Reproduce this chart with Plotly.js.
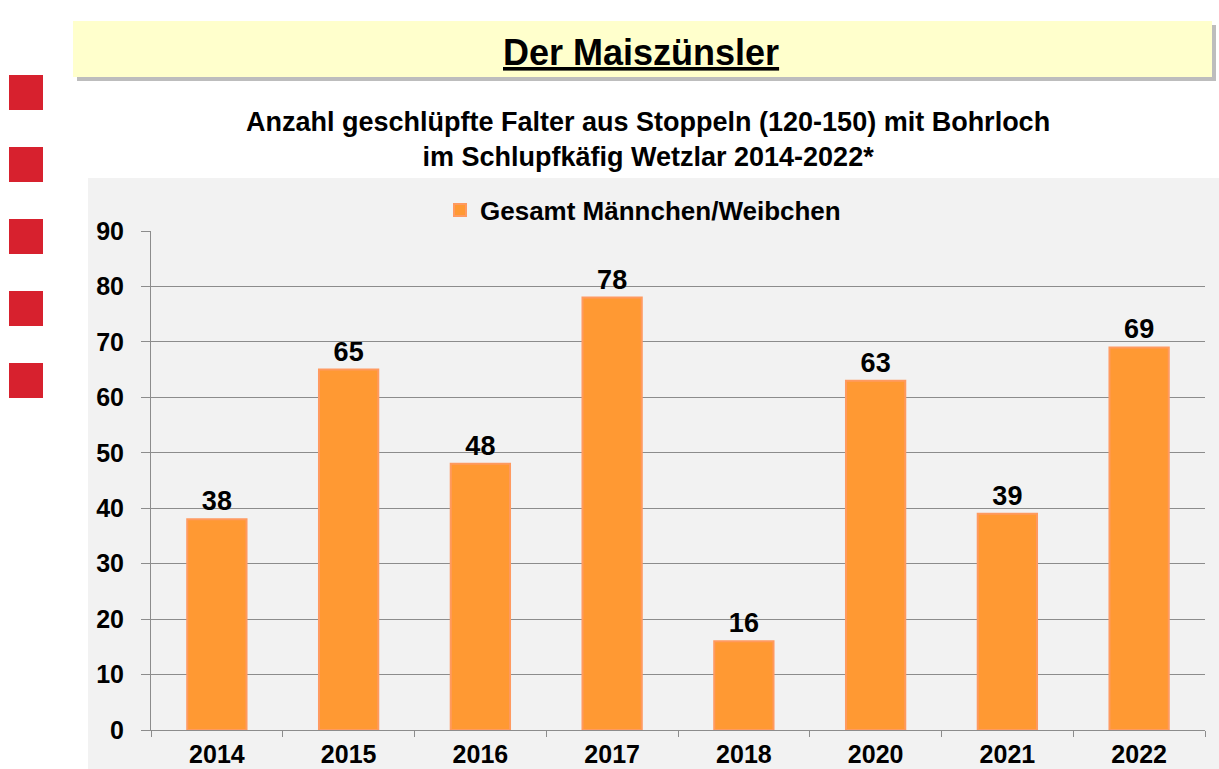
<!DOCTYPE html>
<html><head><meta charset="utf-8">
<script src="https://cdn.plot.ly/plotly-3.0.1.min.js"></script>
<style>html,body{margin:0;padding:0;background:#fff;}#chart{width:1219px;height:769px;}</style>
</head><body><div id="chart"></div>
<script>
const years = ['2014','2015','2016','2017','2018','2020','2021','2022'];
const counts = [38, 65, 48, 78, 16, 63, 39, 69];
const seriesName = 'Gesamt Männchen/Weibchen';
const mainTitle = 'Der Maiszünsler';
const subTitle = 'Anzahl geschlüpfte Falter aus Stoppeln (120-150) mit Bohrloch<br>im Schlupfkäfig Wetzlar 2014-2022*';

const W = 1219, H = 769;
const M = {l: 151, r: 14, t: 231, b: 39};
const pw = W - M.l - M.r, ph = H - M.t - M.b;
const px = x => (x - M.l) / pw;
const py = y => (H - M.b - y) / ph;

const FONT = 'Liberation Sans, Arial, sans-serif';
const shapes = [
  {type:'rect', xref:'paper', yref:'paper', x0:px(88), x1:px(1219), y0:py(769), y1:py(178),
   fillcolor:'#F2F2F2', line:{width:0}, layer:'below'},
  {type:'rect', xref:'paper', yref:'paper', x0:px(77), x1:px(1216), y0:py(81), y1:py(25),
   fillcolor:'#BDBDBD', line:{width:0}, layer:'below'},
  {type:'rect', xref:'paper', yref:'paper', x0:px(73), x1:px(1212), y0:py(77), y1:py(21),
   fillcolor:'#FFFFCC', line:{width:0}, layer:'below'}
];
[75,147,219,291,363].forEach(t => shapes.push(
  {type:'rect', xref:'paper', yref:'paper', x0:px(9), x1:px(43), y0:py(t+35), y1:py(t),
   fillcolor:'#D7212E', line:{width:0}, layer:'below'}));

const data = [{
  type:'bar', x: years, y: counts, name: seriesName,
  marker:{color:'#FF9933', line:{color:'#FF9A60', width:2}},
  width: 0.45,
  text: counts.map(String), textposition:'outside',
  textfont:{family:FONT, size:27, color:'#000', weight:'bold'},
  cliponaxis:false
}];

const layout = {
  width: W, height: H, margin: M,
  paper_bgcolor:'rgba(0,0,0,0)', plot_bgcolor:'rgba(0,0,0,0)',
  font:{family:FONT, color:'#000'},
  shapes: shapes,
  showlegend: true,
  legend:{orientation:'h', x:px(643), xanchor:'center', y:py(210), yanchor:'middle',
    font:{family:FONT, size:26, weight:'bold'}, bgcolor:'rgba(0,0,0,0)', itemwidth:30},
  annotations:[
    {xref:'paper', yref:'paper', x:px(641), y:py(52), xanchor:'center', yanchor:'middle',
     text:'<u>'+mainTitle+'</u>', showarrow:false,
     font:{family:FONT, size:36, weight:'bold', color:'#000'}},
    {xref:'paper', yref:'paper', x:px(648), y:py(139), xanchor:'center', yanchor:'middle',
     text:subTitle, showarrow:false,
     font:{family:FONT, size:27, weight:'bold', color:'#000'}}
  ],
  xaxis:{type:'category', showgrid:false, showline:true, linecolor:'#8C8C8C', linewidth:1,
    ticks:'outside', tickson:'boundaries', ticklen:6, tickcolor:'#8C8C8C',
    tickfont:{family:FONT, size:25, weight:'bold'}, ticklabelstandoff:2, fixedrange:true},
  yaxis:{range:[0,90], dtick:10, showgrid:true, gridcolor:'#8C8C8C', gridwidth:1,
    showline:true, linecolor:'#8C8C8C', linewidth:1, ticks:'outside', ticklen:9, tickcolor:'#8C8C8C',
    zeroline:false, tickfont:{family:FONT, size:25, weight:'bold'}, ticklabelstandoff:12, fixedrange:true}
};
Plotly.newPlot('chart', data, layout, {displayModeBar:false, staticPlot:true});
</script></body></html>
